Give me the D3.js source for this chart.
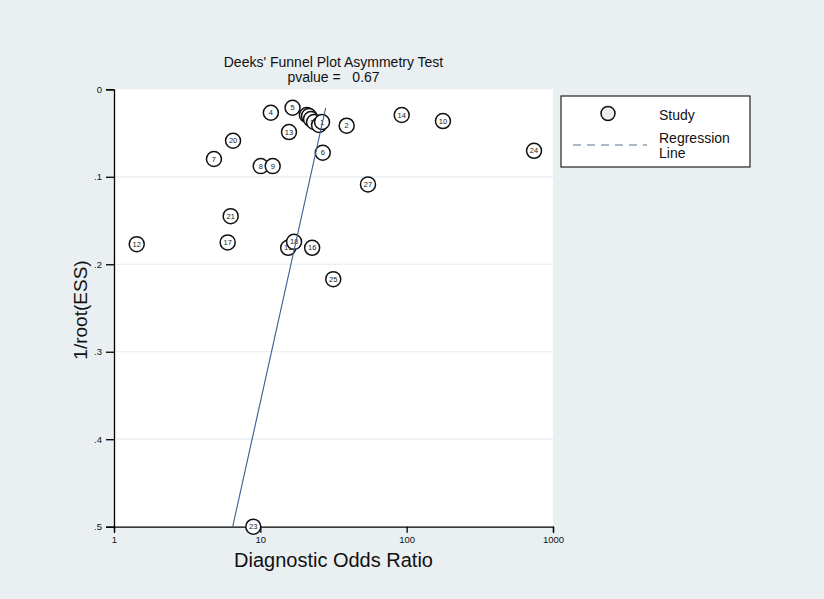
<!DOCTYPE html>
<html><head><meta charset="utf-8">
<script src="https://cdn.jsdelivr.net/npm/d3@7/dist/d3.min.js"></script>
<style>
html,body{margin:0;padding:0;background:#eaeff2;}
svg{display:block;font-family:"Liberation Sans",Arial,sans-serif;}
</style></head>
<body>
<svg id="chart" width="824" height="599"></svg>
<script>
// ---- data ----
const studyIds = ["26","22","3","19","11","1","2","4","5","6","7","8","9","10","12","13","14","15","16","17","18","20","21","23","24","25","27"];
const diagnosticOR = [20.8,21.5,22.2,23.3,25.2,26.4,38.9,11.8,16.6,26.7,4.82,10.06,12.15,177,1.43,15.7,92.5,15.5,22.6,5.98,17.0,6.51,6.27,8.95,742,31.5,54.4];
const invRootESS = [0.0294,0.0305,0.034,0.0374,0.0408,0.0374,0.0416,0.0268,0.0211,0.0725,0.0797,0.0878,0.0878,0.0363,0.177,0.0489,0.0294,0.1812,0.1812,0.175,0.1744,0.0588,0.145,0.5,0.0703,0.217,0.1087];
const regIntercept = 3.395;   // ln(DOR) at 1/root(ESS)=0
const regSlope = -3.055;      // change in ln(DOR) per unit of 1/root(ESS)
const xTicks = [1,10,100,1000];
const yTicks = [0,0.1,0.2,0.3,0.4,0.5];
const titleLines = ["Deeks' Funnel Plot Asymmetry Test","pvalue =   0.67"];
const legendLabels = ["Study","Regression","Line"];

// ---- layout ----
const svg = d3.select("#chart");
const L = 114, R = 553, T = 89.3, B = 526.7;
svg.append("rect").attr("width",824).attr("height",599).attr("fill","#eaeff2");
svg.append("rect").attr("x",L).attr("y",T).attr("width",R-L).attr("height",B-T).attr("fill","#ffffff");

const x = d3.scaleLog().domain([1,1000]).range([L,R]);
const y = d3.scaleLinear().domain([0,0.5]).range([T,B]);

// gridlines
svg.append("g").selectAll("line").data(yTicks.filter(d=>d>0 && d<0.5)).join("line")
  .attr("x1",L).attr("x2",R).attr("y1",d=>y(d)).attr("y2",d=>y(d))
  .attr("stroke","#e6ebee").attr("stroke-width",1.2);

// axes
const fmtY = d => d===0 ? "0" : d3.format(".1f")(d).replace(/^0/,"");
const gy = svg.append("g").attr("transform",`translate(${L},0)`)
  .call(d3.axisLeft(y).tickValues(yTicks).tickFormat(fmtY).tickSize(8).tickPadding(4));
const gx = svg.append("g").attr("transform",`translate(0,${B})`)
  .call(d3.axisBottom(x).tickValues(xTicks).tickFormat(d3.format("d")).tickSize(6).tickPadding(4));
[gx,gy].forEach(g=>{
  g.select(".domain").attr("stroke","#000").attr("stroke-width",1.3);
  g.selectAll(".tick line").attr("stroke","#000").attr("stroke-width",1.3);
  g.selectAll(".tick text").attr("fill","#111").attr("font-size",9.5).attr("font-family","Liberation Sans, Arial, sans-serif");
});

// points
const studies = studyIds.map((id,i)=>({id, or:diagnosticOR[i], v:invRootESS[i]}));
const pts = svg.append("g").selectAll("g").data(studies).join("g")
  .attr("transform",d=>`translate(${x(d.or)},${y(d.v)})`);
pts.append("circle").attr("r",7.5).attr("fill","#ffffff").attr("stroke","#111").attr("stroke-width",1.5);
pts.append("text").text(d=>d.id).attr("text-anchor","middle").attr("dy","0.35em")
  .attr("font-size",7.5).attr("fill","#222");

// regression line
const yMin = d3.min(invRootESS), yMax = d3.max(invRootESS);
const regLine = [yMin,yMax].map(v=>({v, or:Math.exp(regIntercept + regSlope*v)}));
svg.append("path").datum(regLine)
  .attr("d",d3.line().x(d=>x(d.or)).y(d=>y(d.v)))
  .attr("stroke","#3d5f8f").attr("stroke-width",1.1).attr("fill","none");

// title
svg.append("g").selectAll("text").data(titleLines).join("text")
  .attr("x",(L+R)/2).attr("y",(d,i)=>67+i*14.5).attr("text-anchor","middle")
  .attr("font-size",14).attr("fill","#111").style("white-space","pre").attr("xml:space","preserve").text(d=>d);

// axis titles
svg.append("text").attr("x",(L+R)/2).attr("y",567).attr("text-anchor","middle")
  .attr("font-size",20).attr("fill","#111").text("Diagnostic Odds Ratio");
svg.append("text").attr("transform","translate(87,310) rotate(-90)").attr("text-anchor","middle")
  .attr("font-size",19).attr("fill","#111").text("1/root(ESS)");

// legend
const lg = svg.append("g");
lg.append("rect").attr("x",561).attr("y",96).attr("width",189).attr("height",71)
  .attr("fill","#fff").attr("stroke","#222").attr("stroke-width",1.2);
lg.append("circle").attr("cx",608).attr("cy",113.5).attr("r",7).attr("fill","#ececec").attr("stroke","#111").attr("stroke-width",1.5);
lg.append("line").attr("x1",573).attr("x2",647).attr("y1",145).attr("y2",145)
  .attr("stroke","#8ea3b6").attr("stroke-width",1.3).attr("stroke-dasharray","8,6");
lg.selectAll("text").data(legendLabels).join("text")
  .attr("x",659).attr("y",(d,i)=>[119.5,142.5,158][i]).attr("font-size",14).attr("fill","#111").text(d=>d);
</script>
</body></html>
